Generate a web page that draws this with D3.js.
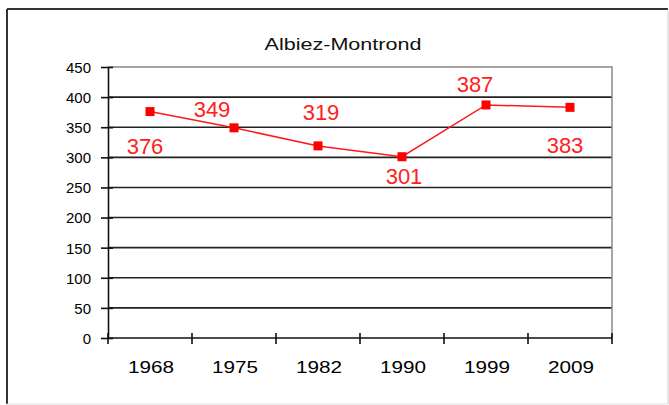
<!DOCTYPE html>
<html>
<head>
<meta charset="utf-8">
<script src="https://cdn.jsdelivr.net/npm/d3@7"></script>
<style>
body { margin:0; background:#fff; }
text { font-family: "Liberation Sans", Arial, sans-serif; }
</style>
</head>
<body>
<svg class="graph1"></svg>
<script>
var years = ["1968", "1975", "1982", "1990", "1999", "2009"];
var population = [376, 349, 319, 301, 387, 383];
var yTicks = [0, 50, 100, 150, 200, 250, 300, 350, 400, 450];
var chartTitle = "Albiez-Montrond";
// where each value label sits relative to its point (dx, dy in px)
var labelPlace = [[-5, 42], [-22, -11], [3, -26], [2, 27], [-11, -13], [-5, 46]];

var makeTranslateString = function(x, y)
{
    return "translate(" + x + "," + y + ")";
}

var drawFrame = function(svg, screen)
{
    svg.append("line").attr("x1", 7).attr("y1", 9).attr("x2", 668).attr("y2", 9)
        .attr("stroke", "#333").attr("stroke-width", 2);
    svg.append("line").attr("x1", 7).attr("y1", 9).attr("x2", 7).attr("y2", 404)
        .attr("stroke", "#333").attr("stroke-width", 2);
    svg.append("line").attr("x1", 668).attr("y1", 9).attr("x2", 668).attr("y2", 404)
        .attr("stroke", "#ccc").attr("stroke-width", 1);
    svg.append("line").attr("x1", 7).attr("y1", 404).attr("x2", 668).attr("y2", 404)
        .attr("stroke", "#ddd").attr("stroke-width", 1);
}

var drawGrid = function(target, graph, yScale)
{
    target.append("g")
        .selectAll("line")
        .data(yTicks.filter(function(d) { return d > 0 && d < 450; }))
        .enter()
        .append("line")
        .attr("x1", 0)
        .attr("x2", graph.width)
        .attr("y1", function(d) { return yScale(d); })
        .attr("y2", function(d) { return yScale(d); })
        .attr("stroke", "#222")
        .attr("stroke-width", 1.6);

    // plot area border (top and right)
    target.append("path")
        .attr("d", "M0," + yScale(450) + "H" + graph.width + "V" + graph.height)
        .attr("fill", "none")
        .attr("stroke", "#888")
        .attr("stroke-width", 1.5);
}

var drawAxes = function(target, graph, xScale, yScale)
{
    var yAxis = d3.axisLeft(yScale)
        .tickValues(yTicks)
        .tickSize(0)
        .tickPadding(17);

    var ya = target.append("g").call(yAxis);
    ya.select(".domain").attr("stroke", "#111").attr("stroke-width", 1.6);
    ya.selectAll("text")
        .attr("font-size", 15)
        .attr("fill", "#000")
        .attr("dy", "0.36em");
    ya.selectAll(".tick").append("line")
        .attr("x1", -7).attr("x2", 5)
        .attr("stroke", "#111").attr("stroke-width", 1.6);

    var bounds = xScale.domain().map(function(d) { return xScale(d); });
    bounds.push(graph.width);

    var xa = target.append("g")
        .attr("transform", makeTranslateString(0, graph.height));
    xa.append("line")
        .attr("x1", 0).attr("x2", graph.width)
        .attr("stroke", "#111").attr("stroke-width", 1.6);
    xa.selectAll(".xtick")
        .data(bounds)
        .enter()
        .append("line")
        .attr("x1", function(d) { return d; })
        .attr("x2", function(d) { return d; })
        .attr("y1", -5).attr("y2", 6)
        .attr("stroke", "#111").attr("stroke-width", 1.6);
    xa.selectAll(".xlabel")
        .data(years)
        .enter()
        .append("text")
        .text(function(d) { return d; })
        .attr("x", function(d) { return xScale(d) + xScale.bandwidth() / 2 + 1; })
        .attr("y", 35)
        .attr("text-anchor", "middle")
        .attr("font-size", 16)
        .attr("textLength", 46)
        .attr("lengthAdjust", "spacingAndGlyphs")
        .attr("fill", "#000");
}

var drawLine = function(target, xScale, yScale)
{
    var cx = function(i) { return xScale(years[i]) + xScale.bandwidth() / 2; };

    var line = d3.line()
        .x(function(d, i) { return cx(i); })
        .y(function(d) { return yScale(d); });

    target.append("path")
        .datum(population)
        .attr("d", line)
        .attr("fill", "none")
        .attr("stroke", "#ff1a1a")
        .attr("stroke-width", 1.5);

    target.append("g")
        .selectAll("rect")
        .data(population)
        .enter()
        .append("rect")
        .attr("x", function(d, i) { return cx(i) - 4.5; })
        .attr("y", function(d) { return yScale(d) - 4.5; })
        .attr("width", 9)
        .attr("height", 9)
        .attr("fill", "#ff0000");

    target.append("g")
        .selectAll("text")
        .data(population)
        .enter()
        .append("text")
        .text(function(d) { return d; })
        .attr("x", function(d, i) { return cx(i) + labelPlace[i][0]; })
        .attr("y", function(d, i) { return yScale(d) + labelPlace[i][1]; })
        .attr("text-anchor", "middle")
        .attr("font-size", 22)
        .attr("fill", "#ff2020");
}

var initGraph = function()
{
    var screen = {width:669, height:405}
    var margins = {left:108, right:57, top:67, bottom:67}

    var graph =
        {
            width:screen.width - margins.left - margins.right,
            height:screen.height - margins.top - margins.bottom
        }

    var svg = d3.select(".graph1")
        .attr("width", screen.width)
        .attr("height", screen.height);

    drawFrame(svg, screen);

    svg.append("text")
        .text(chartTitle)
        .attr("x", 343)
        .attr("y", 50)
        .attr("text-anchor", "middle")
        .attr("font-size", 17)
        .attr("textLength", 157)
        .attr("lengthAdjust", "spacingAndGlyphs")
        .attr("fill", "#111");

    var target = svg.append("g")
        .attr("transform", makeTranslateString(margins.left, margins.top));

    var xScale = d3.scaleBand()
        .domain(years)
        .range([0, graph.width]);

    var yScale = d3.scaleLinear()
        .domain([0, 450])
        .range([graph.height, 0]);

    drawGrid(target, graph, yScale);
    drawAxes(target, graph, xScale, yScale);
    drawLine(target, xScale, yScale);
}

initGraph();
</script>
</body>
</html>
